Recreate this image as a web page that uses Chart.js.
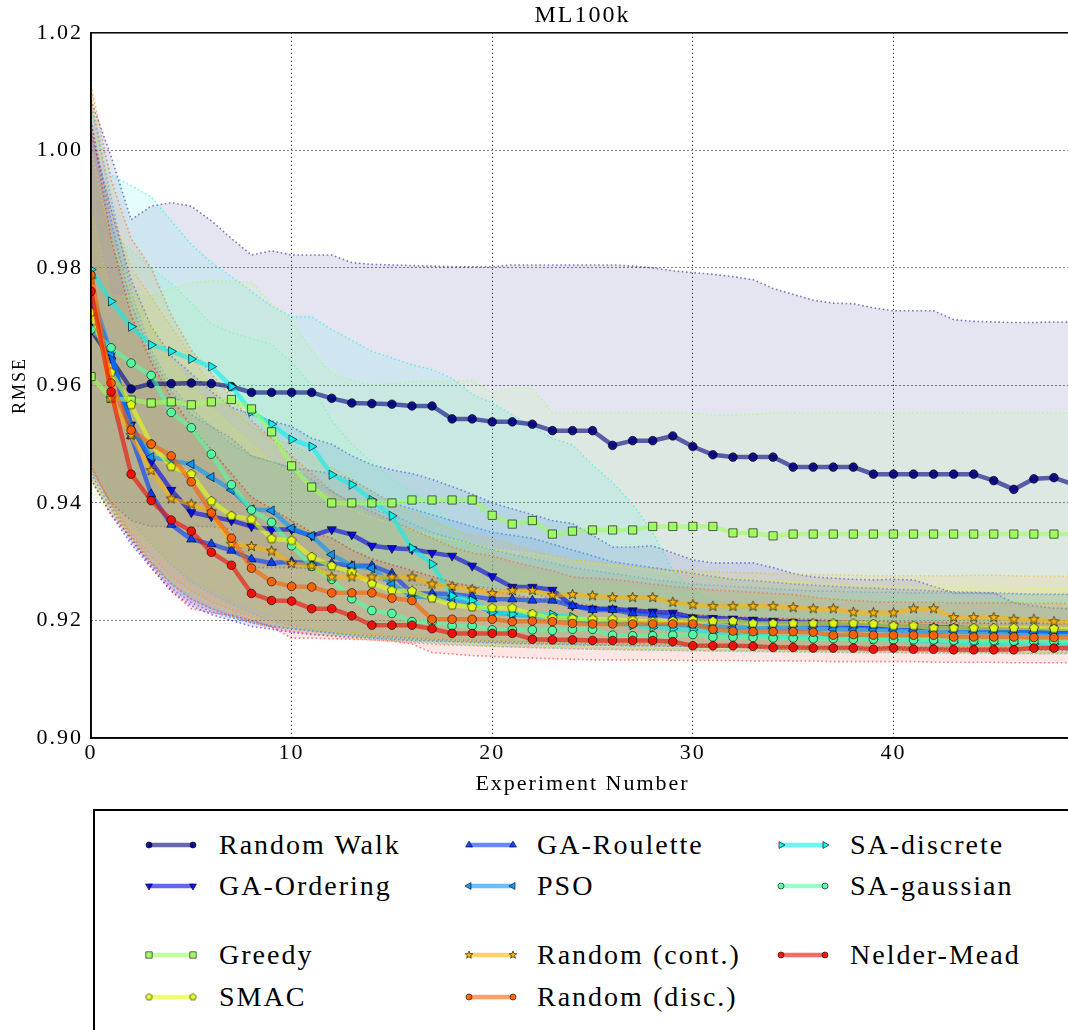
<!DOCTYPE html>
<html>
<head>
<meta charset="utf-8">
<script src="https://cdn.jsdelivr.net/npm/chart.js@4.4.0/dist/chart.umd.min.js"></script>
<style>
  html, body { margin: 0; padding: 0; background: #fff; overflow: hidden; width: 1068px; height: 1030px; }
  #wrap { position: absolute; left: 0; top: 0; width: 1100px; height: 800px; }
  #legendBox { position: absolute; left: 93px; top: 809px; width: 1000px; height: 260px; border: 2px solid #000; box-sizing: border-box; }
  .item { position: absolute; white-space: nowrap; font-family: "Liberation Serif", serif; font-size: 28px; letter-spacing: 2px; color: #000; }
  .item canvas { position: absolute; left: 0; top: 0; }
  .item span { position: absolute; top: 0; line-height: 30px; }
</style>
</head>
<body>
<div id="wrap"><canvas id="chart"></canvas></div>
<div id="legendBox"></div>
<div id="legend"></div>
<script>
// experiment index on the x axis
const experiments = Array.from({length: 50}, (_, i) => i);
const yTicks = [0.90, 0.92, 0.94, 0.96, 0.98, 1.00, 1.02];
const xTicks = [0, 10, 20, 30, 40];

// mean RMSE per experiment
const randomWalk = [0.9694,0.9645,0.9594,0.9603,0.9603,0.9604,0.9603,0.9598,0.9588,0.9588,
  0.9588,0.9588,0.9578,0.9570,0.9569,0.9568,0.9565,0.9565,0.9543,0.9543,
  0.9538,0.9538,0.9534,0.9523,0.9523,0.9523,0.9498,0.9506,0.9506,0.9514,
  0.9496,0.9482,0.9478,0.9478,0.9478,0.9461,0.9461,0.9461,0.9461,0.9449,
  0.9449,0.9449,0.9449,0.9449,0.9449,0.9438,0.9423,0.9441,0.9443,0.9431];
const gaOrdering = [0.9700,0.9652,0.9533,0.9470,0.9422,0.9384,0.9377,0.9370,0.9360,0.9355,
  0.9355,0.9344,0.9355,0.9346,0.9327,0.9323,0.9321,0.9315,0.9310,0.9293,
  0.9275,0.9257,0.9257,0.9252,0.9225,0.9220,0.9220,0.9217,0.9215,0.9213,
  0.9205,0.9204,0.9203,0.9201,0.9199,0.9197,0.9196,0.9195,0.9193,0.9192,
  0.9191,0.9190,0.9188,0.9188,0.9186,0.9185,0.9184,0.9183,0.9182,0.9181];
const gaRoulette = [0.9745,0.9650,0.9514,0.9415,0.9363,0.9338,0.9330,0.9319,0.9304,0.9298,
  0.9300,0.9297,0.9297,0.9293,0.9293,0.9280,0.9246,0.9246,0.9245,0.9241,
  0.9236,0.9236,0.9234,0.9234,0.9225,0.9218,0.9218,0.9212,0.9210,0.9206,
  0.9202,0.9200,0.9198,0.9197,0.9195,0.9194,0.9193,0.9192,0.9191,0.9190,
  0.9189,0.9188,0.9187,0.9186,0.9185,0.9184,0.9183,0.9182,0.9181,0.9181];
const pso = [0.9760,0.9655,0.9530,0.9478,0.9472,0.9466,0.9444,0.9422,0.9389,0.9387,
  0.9357,0.9344,0.9312,0.9293,0.9289,0.9262,0.9241,0.9239,0.9236,0.9228,
  0.9214,0.9210,0.9208,0.9206,0.9200,0.9199,0.9199,0.9196,0.9194,0.9193,
  0.9190,0.9190,0.9188,0.9188,0.9187,0.9186,0.9186,0.9185,0.9184,0.9184,
  0.9183,0.9182,0.9181,0.9181,0.9180,0.9180,0.9179,0.9179,0.9178,0.9178];
const saDiscrete = [0.9797,0.9743,0.9700,0.9669,0.9658,0.9645,0.9632,0.9598,0.9555,0.9534,
  0.9508,0.9496,0.9448,0.9431,0.9405,0.9378,0.9323,0.9296,0.9242,0.9234,
  0.9214,0.9211,0.9210,0.9210,0.9206,0.9200,0.9196,0.9192,0.9188,0.9186,
  0.9184,0.9180,0.9176,0.9177,0.9172,0.9171,0.9171,0.9172,0.9172,0.9168,
  0.9167,0.9166,0.9164,0.9163,0.9161,0.9161,0.9161,0.9160,0.9160,0.9160];
const saGaussian = [0.9695,0.9664,0.9638,0.9617,0.9554,0.9528,0.9483,0.9431,0.9388,0.9367,
  0.9327,0.9292,0.9270,0.9237,0.9217,0.9212,0.9198,0.9198,0.9191,0.9191,
  0.9184,0.9184,0.9184,0.9183,0.9185,0.9185,0.9175,0.9174,0.9174,0.9175,
  0.9176,0.9172,0.9172,0.9171,0.9170,0.9170,0.9169,0.9169,0.9168,0.9168,
  0.9167,0.9167,0.9167,0.9166,0.9166,0.9166,0.9165,0.9165,0.9165,0.9165];
const greedy = [0.9615,0.9578,0.9575,0.9570,0.9572,0.9567,0.9572,0.9576,0.9560,0.9521,
  0.9463,0.9427,0.9400,0.9400,0.9400,0.9400,0.9405,0.9405,0.9405,0.9405,
  0.9379,0.9364,0.9370,0.9347,0.9352,0.9354,0.9354,0.9354,0.9360,0.9360,
  0.9360,0.9360,0.9349,0.9349,0.9344,0.9347,0.9347,0.9347,0.9347,0.9347,
  0.9347,0.9347,0.9347,0.9347,0.9347,0.9347,0.9347,0.9347,0.9347,0.9347];
const smac = [0.9725,0.9622,0.9567,0.9500,0.9462,0.9449,0.9403,0.9378,0.9372,0.9339,
  0.9336,0.9308,0.9293,0.9282,0.9263,0.9251,0.9250,0.9238,0.9226,0.9223,
  0.9221,0.9221,0.9211,0.9204,0.9203,0.9202,0.9202,0.9200,0.9198,0.9199,
  0.9201,0.9199,0.9199,0.9195,0.9195,0.9195,0.9195,0.9195,0.9195,0.9194,
  0.9191,0.9191,0.9187,0.9187,0.9187,0.9187,0.9187,0.9187,0.9186,0.9186];
const randomCont = [0.9780,0.9578,0.9515,0.9455,0.9407,0.9398,0.9385,0.9330,0.9326,0.9318,
  0.9297,0.9293,0.9274,0.9274,0.9274,0.9274,0.9274,0.9262,0.9258,0.9253,
  0.9246,0.9251,0.9251,0.9243,0.9244,0.9242,0.9239,0.9239,0.9239,0.9231,
  0.9227,0.9224,0.9224,0.9224,0.9224,0.9222,0.9220,0.9220,0.9214,0.9213,
  0.9213,0.9220,0.9220,0.9205,0.9205,0.9205,0.9202,0.9202,0.9198,0.9197];
const randomDisc = [0.9788,0.9604,0.9524,0.9500,0.9480,0.9436,0.9383,0.9340,0.9289,0.9266,
  0.9258,0.9257,0.9247,0.9247,0.9247,0.9238,0.9234,0.9202,0.9202,0.9202,
  0.9202,0.9198,0.9199,0.9198,0.9195,0.9194,0.9194,0.9194,0.9194,0.9194,
  0.9194,0.9185,0.9182,0.9181,0.9181,0.9181,0.9180,0.9175,0.9176,0.9175,
  0.9175,0.9175,0.9175,0.9172,0.9172,0.9172,0.9172,0.9171,0.9171,0.9171];
const nelderMead = [0.9760,0.9589,0.9449,0.9404,0.9371,0.9352,0.9316,0.9294,0.9246,0.9234,
  0.9233,0.9220,0.9220,0.9208,0.9192,0.9192,0.9192,0.9186,0.9178,0.9178,
  0.9178,0.9178,0.9168,0.9167,0.9167,0.9166,0.9166,0.9166,0.9166,0.9164,
  0.9157,0.9157,0.9157,0.9156,0.9154,0.9154,0.9153,0.9153,0.9153,0.9151,
  0.9153,0.9151,0.9151,0.9150,0.9150,0.9150,0.9150,0.9153,0.9153,0.9153];

// upper edge of each shaded band
const randomWalkHi = [1.0085,0.9990,0.9882,0.9905,0.9911,0.9905,0.9880,0.9850,0.9822,0.9829,
  0.9822,0.9822,0.9822,0.9809,0.9806,0.9805,0.9804,0.9803,0.9802,0.9802,
  0.9802,0.9805,0.9805,0.9805,0.9805,0.9805,0.9805,0.9803,0.9800,0.9795,
  0.9792,0.9789,0.9785,0.9780,0.9765,0.9755,0.9745,0.9740,0.9739,0.9732,
  0.9727,0.9727,0.9727,0.9712,0.9709,0.9708,0.9707,0.9707,0.9708,0.9708];
const gaOrderingHi = [1.0030,0.9900,0.9780,0.9700,0.9650,0.9620,0.9590,0.9563,0.9550,0.9540,
  0.9530,0.9510,0.9500,0.9480,0.9465,0.9456,0.9450,0.9440,0.9428,0.9415,
  0.9400,0.9390,0.9380,0.9370,0.9365,0.9345,0.9325,0.9325,0.9327,0.9315,
  0.9303,0.9298,0.9298,0.9298,0.9290,0.9280,0.9274,0.9272,0.9270,0.9269,
  0.9270,0.9269,0.9258,0.9247,0.9247,0.9247,0.9230,0.9225,0.9221,0.9220];
const gaRouletteHi = [1.0050,0.9880,0.9740,0.9650,0.9590,0.9550,0.9530,0.9510,0.9480,0.9470,
  0.9460,0.9455,0.9450,0.9440,0.9420,0.9400,0.9390,0.9380,0.9370,0.9360,
  0.9350,0.9345,0.9340,0.9330,0.9320,0.9310,0.9300,0.9295,0.9290,0.9285,
  0.9280,0.9275,0.9270,0.9268,0.9265,0.9262,0.9260,0.9258,0.9256,0.9255,
  0.9253,0.9252,0.9250,0.9249,0.9248,0.9247,0.9246,0.9245,0.9245,0.9244];
const psoHi = [1.0080,0.9920,0.9760,0.9660,0.9600,0.9560,0.9530,0.9500,0.9480,0.9470,
  0.9460,0.9440,0.9420,0.9400,0.9390,0.9380,0.9365,0.9350,0.9340,0.9330,
  0.9320,0.9312,0.9305,0.9298,0.9290,0.9285,0.9280,0.9275,0.9270,0.9266,
  0.9262,0.9260,0.9258,0.9256,0.9254,0.9252,0.9250,0.9250,0.9249,0.9248,
  0.9248,0.9247,0.9247,0.9246,0.9246,0.9245,0.9245,0.9244,0.9244,0.9244];
const saDiscreteHi = [1.0073,0.9958,0.9940,0.9921,0.9880,0.9840,0.9809,0.9785,0.9760,0.9735,
  0.9717,0.9717,0.9695,0.9677,0.9658,0.9647,0.9635,0.9627,0.9612,0.9585,
  0.9570,0.9550,0.9530,0.9510,0.9499,0.9465,0.9435,0.9398,0.9350,0.9285,
  0.9250,0.9235,0.9225,0.9220,0.9218,0.9215,0.9212,0.9210,0.9208,0.9206,
  0.9205,0.9204,0.9203,0.9202,0.9200,0.9199,0.9198,0.9197,0.9196,0.9196];
const saGaussianHi = [1.0000,0.9860,0.9830,0.9800,0.9774,0.9740,0.9705,0.9690,0.9680,0.9670,
  0.9640,0.9600,0.9540,0.9500,0.9470,0.9440,0.9420,0.9400,0.9360,0.9330,
  0.9300,0.9290,0.9280,0.9275,0.9270,0.9265,0.9260,0.9256,0.9252,0.9250,
  0.9248,0.9246,0.9244,0.9243,0.9242,0.9241,0.9240,0.9240,0.9239,0.9238,
  0.9238,0.9237,0.9237,0.9236,0.9236,0.9235,0.9235,0.9235,0.9234,0.9234];
const greedyHi = [0.9900,0.9752,0.9752,0.9752,0.9765,0.9775,0.9778,0.9777,0.9776,0.9740,
  0.9712,0.9660,0.9620,0.9609,0.9601,0.9603,0.9607,0.9607,0.9607,0.9609,
  0.9587,0.9596,0.9596,0.9553,0.9553,0.9553,0.9553,0.9553,0.9553,0.9553,
  0.9553,0.9550,0.9550,0.9551,0.9553,0.9553,0.9553,0.9553,0.9553,0.9553,
  0.9553,0.9553,0.9553,0.9553,0.9553,0.9553,0.9553,0.9553,0.9553,0.9553];
const smacHi = [1.0000,0.9850,0.9760,0.9700,0.9640,0.9600,0.9560,0.9530,0.9500,0.9470,
  0.9450,0.9430,0.9410,0.9390,0.9375,0.9365,0.9355,0.9345,0.9338,0.9330,
  0.9322,0.9318,0.9314,0.9308,0.9303,0.9298,0.9294,0.9290,0.9286,0.9282,
  0.9280,0.9276,0.9272,0.9270,0.9268,0.9266,0.9264,0.9262,0.9260,0.9259,
  0.9258,0.9257,0.9257,0.9256,0.9256,0.9255,0.9255,0.9255,0.9254,0.9254];
const randomContHi = [1.0100,0.9900,0.9800,0.9750,0.9700,0.9650,0.9600,0.9560,0.9530,0.9510,
  0.9500,0.9480,0.9460,0.9440,0.9420,0.9400,0.9385,0.9370,0.9355,0.9345,
  0.9340,0.9330,0.9320,0.9310,0.9303,0.9300,0.9296,0.9292,0.9289,0.9286,
  0.9285,0.9283,0.9282,0.9281,0.9280,0.9279,0.9278,0.9278,0.9277,0.9276,
  0.9276,0.9276,0.9276,0.9276,0.9277,0.9277,0.9276,0.9275,0.9275,0.9275];
const randomDiscHi = [1.0110,0.9950,0.9850,0.9800,0.9720,0.9660,0.9620,0.9580,0.9540,0.9510,
  0.9480,0.9450,0.9420,0.9400,0.9385,0.9370,0.9355,0.9340,0.9325,0.9315,
  0.9310,0.9300,0.9292,0.9285,0.9274,0.9272,0.9270,0.9266,0.9262,0.9258,
  0.9255,0.9252,0.9250,0.9248,0.9246,0.9244,0.9240,0.9236,0.9234,0.9232,
  0.9231,0.9231,0.9231,0.9230,0.9230,0.9230,0.9230,0.9229,0.9229,0.9229];
const nelderMeadHi = [1.0050,0.9850,0.9720,0.9640,0.9580,0.9530,0.9490,0.9450,0.9410,0.9390,
  0.9370,0.9350,0.9340,0.9320,0.9305,0.9295,0.9285,0.9275,0.9265,0.9258,
  0.9250,0.9245,0.9238,0.9232,0.9228,0.9224,0.9220,0.9218,0.9216,0.9214,
  0.9210,0.9208,0.9206,0.9205,0.9204,0.9203,0.9202,0.9200,0.9199,0.9198,
  0.9198,0.9197,0.9197,0.9196,0.9196,0.9195,0.9195,0.9195,0.9195,0.9195];

// lower edge of each shaded band
const randomWalkLo = [0.9460,0.9400,0.9370,0.9360,0.9360,0.9360,0.9360,0.9355,0.9290,0.9290,
  0.9290,0.9288,0.9285,0.9280,0.9275,0.9262,0.9260,0.9260,0.9258,0.9258,
  0.9255,0.9250,0.9248,0.9235,0.9230,0.9225,0.9215,0.9212,0.9210,0.9210,
  0.9205,0.9200,0.9198,0.9198,0.9197,0.9195,0.9195,0.9194,0.9194,0.9192,
  0.9192,0.9192,0.9191,0.9191,0.9190,0.9190,0.9188,0.9188,0.9188,0.9188];
const gaOrderingLo = [0.9440,0.9380,0.9330,0.9290,0.9250,0.9225,0.9210,0.9200,0.9190,0.9185,
  0.9180,0.9176,0.9174,0.9172,0.9170,0.9168,0.9166,0.9165,0.9164,0.9163,
  0.9162,0.9161,0.9160,0.9160,0.9159,0.9158,0.9158,0.9157,0.9157,0.9156,
  0.9156,0.9155,0.9155,0.9154,0.9154,0.9153,0.9153,0.9153,0.9152,0.9152,
  0.9152,0.9151,0.9151,0.9151,0.9150,0.9150,0.9150,0.9150,0.9149,0.9149];
const gaRouletteLo = [0.9450,0.9390,0.9335,0.9295,0.9255,0.9230,0.9215,0.9205,0.9196,0.9190,
  0.9186,0.9182,0.9179,0.9176,0.9174,0.9172,0.9170,0.9168,0.9167,0.9166,
  0.9165,0.9164,0.9163,0.9163,0.9162,0.9161,0.9161,0.9160,0.9160,0.9159,
  0.9159,0.9158,0.9158,0.9158,0.9157,0.9157,0.9157,0.9156,0.9156,0.9156,
  0.9155,0.9155,0.9155,0.9155,0.9154,0.9154,0.9154,0.9154,0.9154,0.9154];
const psoLo = [0.9455,0.9400,0.9345,0.9300,0.9262,0.9236,0.9220,0.9208,0.9198,0.9191,
  0.9186,0.9182,0.9178,0.9175,0.9172,0.9170,0.9168,0.9166,0.9165,0.9164,
  0.9163,0.9162,0.9161,0.9160,0.9159,0.9158,0.9158,0.9157,0.9157,0.9156,
  0.9156,0.9155,0.9155,0.9155,0.9154,0.9154,0.9154,0.9153,0.9153,0.9153,
  0.9153,0.9152,0.9152,0.9152,0.9152,0.9151,0.9151,0.9151,0.9151,0.9151];
const saDiscreteLo = [0.9480,0.9420,0.9370,0.9330,0.9295,0.9265,0.9245,0.9228,0.9212,0.9200,
  0.9190,0.9183,0.9178,0.9174,0.9170,0.9167,0.9164,0.9162,0.9160,0.9158,
  0.9156,0.9155,0.9154,0.9153,0.9152,0.9151,0.9150,0.9150,0.9149,0.9149,
  0.9148,0.9148,0.9147,0.9147,0.9147,0.9146,0.9146,0.9146,0.9145,0.9145,
  0.9145,0.9145,0.9144,0.9144,0.9144,0.9144,0.9144,0.9143,0.9143,0.9143];
const saGaussianLo = [0.9440,0.9385,0.9340,0.9300,0.9265,0.9240,0.9222,0.9210,0.9200,0.9192,
  0.9186,0.9181,0.9177,0.9174,0.9171,0.9168,0.9166,0.9164,0.9162,0.9160,
  0.9159,0.9158,0.9157,0.9156,0.9155,0.9154,0.9153,0.9153,0.9152,0.9152,
  0.9151,0.9151,0.9150,0.9150,0.9150,0.9149,0.9149,0.9149,0.9148,0.9148,
  0.9148,0.9148,0.9147,0.9147,0.9147,0.9147,0.9147,0.9146,0.9146,0.9146];
const greedyLo = [0.9420,0.9385,0.9355,0.9330,0.9300,0.9275,0.9255,0.9240,0.9225,0.9212,
  0.9200,0.9190,0.9182,0.9176,0.9172,0.9170,0.9168,0.9166,0.9164,0.9162,
  0.9160,0.9158,0.9157,0.9156,0.9155,0.9154,0.9153,0.9152,0.9152,0.9151,
  0.9151,0.9150,0.9150,0.9149,0.9149,0.9149,0.9148,0.9148,0.9148,0.9147,
  0.9147,0.9147,0.9147,0.9146,0.9146,0.9146,0.9146,0.9146,0.9145,0.9145];
const smacLo = [0.9445,0.9390,0.9340,0.9302,0.9268,0.9244,0.9228,0.9215,0.9204,0.9196,
  0.9190,0.9185,0.9181,0.9178,0.9175,0.9173,0.9171,0.9169,0.9167,0.9166,
  0.9165,0.9164,0.9163,0.9162,0.9161,0.9160,0.9160,0.9159,0.9159,0.9158,
  0.9158,0.9157,0.9157,0.9157,0.9156,0.9156,0.9156,0.9155,0.9155,0.9155,
  0.9155,0.9154,0.9154,0.9154,0.9154,0.9154,0.9153,0.9153,0.9153,0.9153];
const randomContLo = [0.9460,0.9400,0.9350,0.9310,0.9275,0.9250,0.9232,0.9218,0.9206,0.9198,
  0.9191,0.9186,0.9182,0.9179,0.9176,0.9174,0.9172,0.9170,0.9168,0.9167,
  0.9166,0.9165,0.9164,0.9163,0.9162,0.9162,0.9161,0.9161,0.9160,0.9160,
  0.9159,0.9159,0.9158,0.9158,0.9158,0.9157,0.9157,0.9157,0.9157,0.9156,
  0.9156,0.9156,0.9156,0.9156,0.9155,0.9155,0.9155,0.9155,0.9155,0.9155];
const randomDiscLo = [0.9465,0.9395,0.9340,0.9298,0.9262,0.9236,0.9220,0.9207,0.9196,0.9188,
  0.9182,0.9177,0.9173,0.9170,0.9167,0.9165,0.9162,0.9160,0.9158,0.9157,
  0.9156,0.9155,0.9154,0.9153,0.9152,0.9151,0.9151,0.9150,0.9150,0.9149,
  0.9149,0.9148,0.9148,0.9148,0.9147,0.9147,0.9147,0.9146,0.9146,0.9146,
  0.9146,0.9145,0.9145,0.9145,0.9145,0.9145,0.9144,0.9144,0.9144,0.9144];
const nelderMeadLo = [0.9440,0.9380,0.9340,0.9290,0.9250,0.9220,0.9213,0.9209,0.9200,0.9189,
  0.9170,0.9170,0.9169,0.9168,0.9167,0.9165,0.9160,0.9145,0.9143,0.9140,
  0.9139,0.9137,0.9136,0.9135,0.9134,0.9133,0.9133,0.9133,0.9133,0.9132,
  0.9132,0.9132,0.9132,0.9131,0.9131,0.9131,0.9131,0.9130,0.9130,0.9130,
  0.9130,0.9130,0.9129,0.9129,0.9129,0.9129,0.9128,0.9128,0.9128,0.9128];

// jet colours, one per method
const seriesNames = ['Random Walk', 'GA-Ordering', 'GA-Roulette', 'PSO', 'SA-discrete', 'SA-gaussian',
  'Greedy', 'SMAC', 'Random (cont.)', 'Random (disc.)', 'Nelder-Mead'];
const seriesMeans = [randomWalk, gaOrdering, gaRoulette, pso, saDiscrete, saGaussian, greedy, smac, randomCont, randomDisc, nelderMead];
const seriesHi = [randomWalkHi, gaOrderingHi, gaRouletteHi, psoHi, saDiscreteHi, saGaussianHi, greedyHi, smacHi, randomContHi, randomDiscHi, nelderMeadHi];
const seriesLo = [randomWalkLo, gaOrderingLo, gaRouletteLo, psoLo, saDiscreteLo, saGaussianLo, greedyLo, smacLo, randomContLo, randomDiscLo, nelderMeadLo];
const seriesRgb = [[0,0,128],[0,0,232],[0,56,255],[0,148,255],[8,240,238],[82,255,165],
  [156,255,90],[230,255,17],[255,179,0],[255,94,0],[243,9,0]];
const seriesMarker = ['circle', 'down', 'up', 'left', 'right', 'circle', 'square', 'pentagon', 'star', 'circle', 'circle'];

// legend layout: column / row for each method
const legendCol = [0, 0, 1, 1, 2, 2, 0, 0, 1, 1, 2];
const legendRow = [0, 1, 0, 1, 0, 1, 2, 3, 2, 3, 2];
const legendColX = [149, 469, 781];
const legendTextX = [219, 537, 850];
const legendRowY = [845, 886, 955, 997];

function rgba(c, a) { return `rgba(${c[0]},${c[1]},${c[2]},${a})`; }

function polyCanvas(kind, r, rgb) {
  const c = document.createElement('canvas');
  const s = Math.ceil(r * 2 + 4);
  c.width = s; c.height = s;
  const g = c.getContext('2d');
  const n = kind === 'star' ? 10 : 5;
  g.beginPath();
  for (let k = 0; k < n; k++) {
    const ang = -Math.PI / 2 + k * 2 * Math.PI / n;
    const rr = (kind === 'star' && k % 2) ? r * 0.42 : r;
    const px = s / 2 + rr * Math.cos(ang), py = s / 2 + rr * Math.sin(ang);
    if (k) g.lineTo(px, py); else g.moveTo(px, py);
  }
  g.closePath();
  g.fillStyle = rgba(rgb, 0.9);
  g.fill();
  g.strokeStyle = 'rgba(0,0,0,0.6)';
  g.lineWidth = 1;
  g.stroke();
  return c;
}

function markerStyle(kind, rgb, r) {
  switch (kind) {
    case 'down': return {style: 'triangle', rot: 180, r: r + 1};
    case 'up': return {style: 'triangle', rot: 0, r: r + 1};
    case 'left': return {style: 'triangle', rot: 270, r: r + 1};
    case 'right': return {style: 'triangle', rot: 90, r: r + 1};
    case 'square': return {style: 'rect', rot: 0, r: r + 1.5};
    case 'pentagon': return {style: polyCanvas('pentagon', r + 0.5, rgb), rot: 0, r: r};
    case 'star': return {style: polyCanvas('star', r + 1, rgb), rot: 0, r: r};
    default: return {style: 'circle', rot: 0, r: r};
  }
}

const pts = arr => experiments.map((x, i) => ({x: x, y: arr[i]}));

const datasets = [];
seriesNames.forEach((name, k) => {
  const c = seriesRgb[k];
  const band = {
    borderColor: rgba(c, 0.5), borderWidth: 1.6, borderDash: [1.6, 2.6],
    pointRadius: 0, tension: 0, order: 100 - k
  };
  datasets.push(Object.assign({label: name + ' hi', data: pts(seriesHi[k]), fill: '+1', backgroundColor: rgba(c, 0.1)}, band));
  datasets.push(Object.assign({label: name + ' lo', data: pts(seriesLo[k]), fill: false}, band));
});
seriesNames.forEach((name, k) => {
  const c = seriesRgb[k];
  const m = markerStyle(seriesMarker[k], c, 4.3);
  datasets.push({
    label: name, data: pts(seriesMeans[k]), fill: false, tension: 0,
    borderColor: rgba(c, 0.6), borderWidth: 4.5,
    pointStyle: m.style, pointRotation: m.rot, pointRadius: m.r,
    pointBackgroundColor: rgba(c, 0.9), pointBorderColor: 'rgba(0,0,0,0.6)', pointBorderWidth: 1,
    order: 20 - k
  });
});

const framePlugin = {
  id: 'frame',
  beforeDraw(chart) { chart.ctx.letterSpacing = '2px'; },
  afterDraw(chart) {
    const {ctx, chartArea: a} = chart;
    ctx.save();
    ctx.strokeStyle = '#000';
    ctx.lineWidth = 1.5;
    ctx.strokeRect(a.left, a.top, a.right - a.left, a.bottom - a.top);
    ctx.restore();
  }
};

const serif = '"Liberation Serif", serif';
new Chart(document.getElementById('chart'), {
  type: 'line',
  data: {datasets: datasets},
  options: {
    responsive: true,
    maintainAspectRatio: false,
    animation: false,
    layout: {padding: {left: 0, right: 26, top: 0, bottom: 0}},
    plugins: {
      legend: {display: false},
      tooltip: {enabled: false},
      title: {display: true, text: 'ML100k', fullSize: false, color: '#000',
        font: {family: serif, size: 24, weight: 'normal'}, padding: {top: 1, bottom: 3}}
    },
    scales: {
      x: {
        type: 'linear', min: 0, max: 49,
        afterBuildTicks: s => { s.ticks = xTicks.map(v => ({value: v})); },
        afterFit: s => { s.height = 62; },
        ticks: {color: '#000', font: {family: serif, size: 22}, padding: 2, maxRotation: 0},
        grid: {color: '#000', lineWidth: 1, drawTicks: false},
        border: {display: true, color: '#000', width: 1.5, dash: [1, 3]},
        title: {display: true, text: 'Experiment Number', color: '#000',
          font: {family: serif, size: 22}, padding: {top: 0, bottom: 3}}
      },
      y: {
        min: 0.90, max: 1.02,
        afterBuildTicks: s => { s.ticks = yTicks.map(v => ({value: v})); },
        afterFit: s => { s.width = 91; },
        ticks: {color: '#000', font: {family: serif, size: 22}, padding: 8,
          callback: v => Number(v).toFixed(2)},
        grid: {color: '#000', lineWidth: 1, drawTicks: false},
        border: {display: true, color: '#000', width: 1.5, dash: [1, 3]},
        title: {display: true, text: 'RMSE', color: '#000',
          font: {family: serif, size: 18}, padding: {top: 9, bottom: 0}}
      }
    }
  },
  plugins: [framePlugin]
});

// legend entries: sample line with a marker at each end, then the label
const legend = document.getElementById('legend');
seriesNames.forEach((name, k) => {
  const c = seriesRgb[k];
  const x0 = legendColX[legendCol[k]];
  const yc = legendRowY[legendRow[k]];
  const item = document.createElement('div');
  item.className = 'item';
  item.style.left = (x0 - 10) + 'px';
  item.style.top = (yc - 15) + 'px';
  const cv = document.createElement('canvas');
  cv.width = 64; cv.height = 30;
  item.appendChild(cv);
  const g = cv.getContext('2d');
  g.strokeStyle = rgba(c, 0.6);
  g.lineWidth = 4.5;
  g.beginPath(); g.moveTo(10, 15); g.lineTo(54, 15); g.stroke();
  const m = markerStyle(seriesMarker[k], c, 3);
  [10, 54].forEach(px => {
    g.fillStyle = rgba(c, 0.9);
    g.strokeStyle = 'rgba(0,0,0,0.6)';
    g.lineWidth = 1;
    Chart.helpers.drawPoint(g, {pointStyle: m.style, radius: m.r, rotation: m.rot, borderWidth: 1}, px, 15);
  });
  const span = document.createElement('span');
  span.textContent = name;
  span.style.left = (legendTextX[legendCol[k]] - x0 + 10) + 'px';
  item.appendChild(span);
  legend.appendChild(item);
});
</script>
</body>
</html>
